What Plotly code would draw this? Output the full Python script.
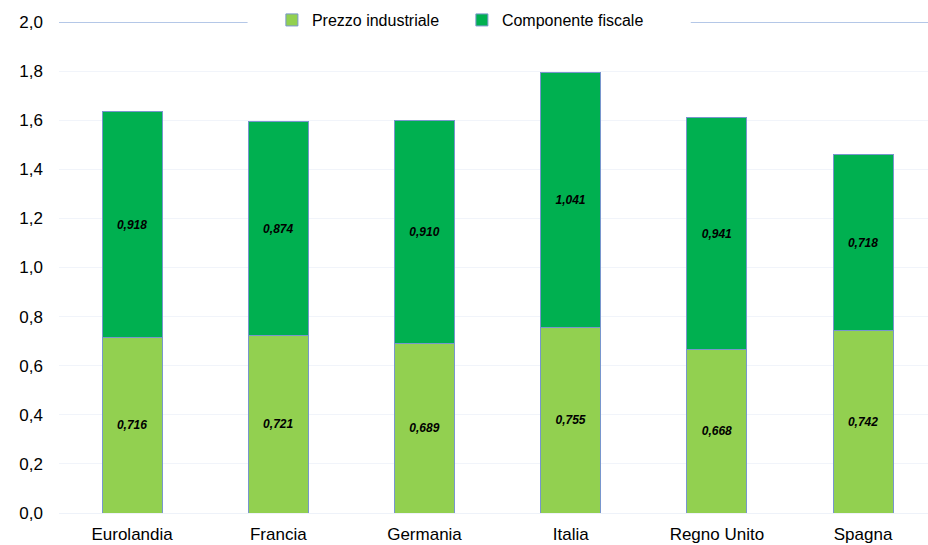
import plotly.graph_objects as go

categories = ["Eurolandia", "Francia", "Germania", "Italia", "Regno Unito", "Spagna"]
prezzo_industriale = [0.716, 0.721, 0.689, 0.755, 0.668, 0.742]
componente_fiscale = [0.918, 0.874, 0.910, 1.041, 0.941, 0.718]
y_ticks = [0.0, 0.2, 0.4, 0.6, 0.8, 1.0, 1.2, 1.4, 1.6, 1.8, 2.0]

def fmt(v):
    return f"{v:.3f}".replace(".", ",")

FONT = "Liberation Sans, Arial, sans-serif"
outline = dict(color="rgb(120,150,205)", width=1)

fig = go.Figure()
fig.add_trace(go.Bar(
    x=categories, y=prezzo_industriale, name="Prezzo industriale",
    marker=dict(color="#92D050", line=outline),
    text=[f"<b><i>{fmt(v)}</i></b>" for v in prezzo_industriale],
    textposition="inside", insidetextanchor="middle", textangle=0,
    textfont=dict(family=FONT, size=12, color="black"),
    width=0.41,
))
fig.add_trace(go.Bar(
    x=categories, y=componente_fiscale, name="Componente fiscale",
    marker=dict(color="#00B050", line=outline),
    text=[f"<b><i>{fmt(v)}</i></b>" for v in componente_fiscale],
    textposition="inside", insidetextanchor="middle", textangle=0,
    textfont=dict(family=FONT, size=12, color="black"),
    width=0.41,
))

fig.update_layout(
    barmode="stack",
    width=928, height=545,
    margin=dict(l=59, r=0, t=22, b=32),
    paper_bgcolor="white", plot_bgcolor="white",
    separators=",.",
    font=dict(family=FONT, size=17, color="black"),
    showlegend=True,
    legend=dict(
        orientation="h", x=0.245, xanchor="left", y=1.004, yanchor="middle",
        bgcolor="rgba(0,0,0,0)", font=dict(family=FONT, size=16, color="black"),
        entrywidth=145, itemwidth=30, traceorder="normal",
    ),
    uniformtext=dict(mode="show", minsize=12),
    shapes=[
        dict(type="line", xref="paper", yref="y", x0=0, x1=0.217, y0=2.0, y1=2.0,
             line=dict(color="#B4C7E7", width=2)),
        dict(type="line", xref="paper", yref="y", x0=0.727, x1=1.0, y0=2.0, y1=2.0,
             line=dict(color="#B4C7E7", width=2)),
    ],
)
fig.update_xaxes(
    range=[-0.5, 5.444], showgrid=False, showline=True,
    linecolor="#EEF2F9", linewidth=1, ticks="", tickfont=dict(size=17),
    ticklabelstandoff=6,
)
fig.update_yaxes(
    range=[0, 2.0], tickvals=y_ticks, tickformat=".1f",
    showgrid=True, gridcolor="#F1F4FA", gridwidth=1, zeroline=False,
    ticks="", ticklabelstandoff=15, tickfont=dict(size=17),
)

fig.write_html("out.html")
